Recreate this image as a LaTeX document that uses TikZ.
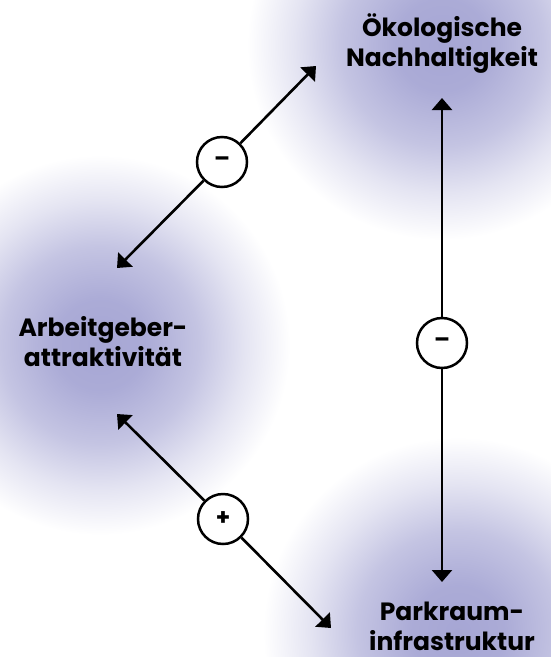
\documentclass[tikz,border=0pt]{standalone}
\usepackage{fontspec}
\setmainfont{Poppins}
\usetikzlibrary{arrows.meta}
\definecolor{glowc}{RGB}{166,166,212}
\pgfdeclareradialshading{glowshade}{\pgfpoint{0bp}{0bp}}{color(0bp)=(glowc); color(6bp)=(glowc!94!white); color(13bp)=(glowc!66!white); color(19bp)=(glowc!30!white); color(25bp)=(white); color(50bp)=(white)}
\tikzset{
  lbl/.style={align=center, font=\bfseries\fontsize{25}{30}\selectfont, text=black, inner sep=0pt},
  sign/.style={circle, draw=black, line width=2.5pt, fill=white, minimum size=50pt, inner sep=0pt, font=\bfseries\fontsize{23}{23}\selectfont},
  link/.style={line width=2.6pt, draw=black},
  tip/.style={-{Triangle[width=20pt 0, length=12pt 0]}},
  glow/.style={shading=glowshade}
}
\begin{document}
\begin{tikzpicture}[x=1pt,y=-1pt]
\useasboundingbox (0,0) rectangle (551,657);
\fill[white] (0,0) rectangle (551,657);
% glows
\shade[glow] (442,45) circle (195);
\shade[glow] (100,345) circle (190);
\shade[glow] (458,632) circle (195);
% labels
\node[lbl] (oek) at (442,44) {Ökologische\\Nachhaltigkeit};
\node[lbl] (arb) at (103,342) {Arbeitgeber-\\attraktivität};
\node[lbl] (park) at (452,626) {Parkraum-\\infrastruktur};
% arrow ends
\coordinate (t1a) at (117,268);
\coordinate (t1b) at (316,66);
\coordinate (t2a) at (442,98);
\coordinate (t2b) at (442,582);
\coordinate (t3a) at (117,414);
\coordinate (t3b) at (331,628);
% sign circles
\node[sign] (s1) at (222,162) {–};
\node[sign] (s2) at (442,343) {–};
\node[sign] (s3) at (223,519) {+};
% connectors
\draw[link,tip] (s1) -- (t1a);
\draw[link,tip] (s1) -- (t1b);
\draw[link,tip] (s2) -- (t2a);
\draw[link,tip] (s2) -- (t2b);
\draw[link,tip] (s3) -- (t3a);
\draw[link,tip] (s3) -- (t3b);
\end{tikzpicture}
\end{document}
